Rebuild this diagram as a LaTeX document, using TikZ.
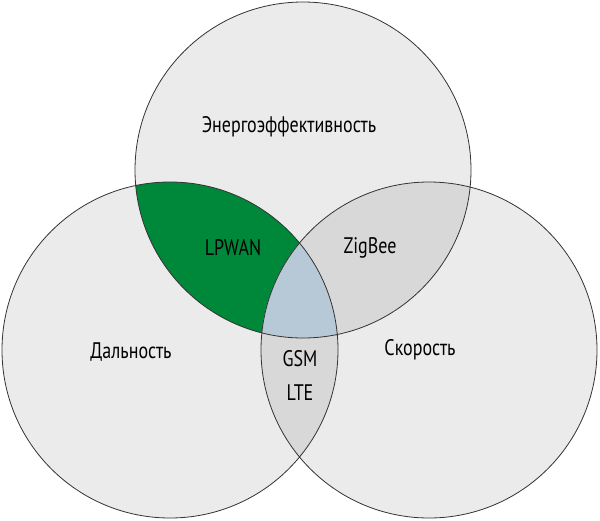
\documentclass[tikz,border=0pt]{standalone}
\usepackage{fontspec}
\setmainfont[FakeStretch=0.8]{PT Sans}
\definecolor{base}{HTML}{EBEBEB}
\definecolor{pair}{HTML}{D8D8D8}
\definecolor{lpwan}{HTML}{00883A}
\definecolor{core}{HTML}{B7C9D6}
\begin{document}
\begin{tikzpicture}[x=1pt,y=-1pt,lbl/.style={font=\fontsize{22.5}{34}\selectfont,align=center}]
\useasboundingbox (0,0) rectangle (600,520);
\def\T{(303,170) circle (168)}
\def\L{(170,350) circle (168)}
\def\R{(429,350) circle (168)}
\fill[base] \T; \fill[base] \L; \fill[base] \R;
\begin{scope}\clip \T; \fill[lpwan] \L; \end{scope}
\begin{scope}\clip \T; \fill[pair] \R; \end{scope}
\begin{scope}\clip \L; \fill[pair] \R; \end{scope}
\begin{scope}\clip \T; \clip \L; \fill[core] \R; \end{scope}
\draw[black!80,line width=0.8pt] \T \L \R;
\node[lbl] (e) at (289,127) {Энергоэффективность};
\node[lbl] (lp) at (233,248) {LPWAN};
\node[lbl] (zb) at (370,248) {ZigBee};
\node[lbl] (d) at (131,352) {Дальность};
\node[lbl] (s) at (420,350) {Скорость};
\node[lbl] (g) at (300,375) {GSM\\LTE};
\end{tikzpicture}
\end{document}
